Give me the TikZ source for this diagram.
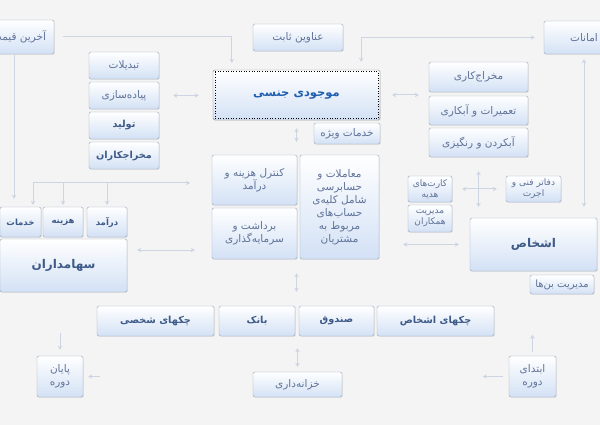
\documentclass[tikz,border=0pt]{standalone}
\usepackage{fontspec}
\usetikzlibrary{arrows.meta,shadows,calc}
\newfontfamily\fa[Script=Arabic]{DejaVu Sans}
\TeXXeTstate=1
\newcommand\rl[1]{\beginR#1\endR}
\definecolor{bg}{HTML}{F4F4F4}
\definecolor{bord}{HTML}{9AA7BA}
\definecolor{bot}{HTML}{D3E1F5}
\definecolor{txt}{HTML}{5F7398}
\definecolor{txtb}{HTML}{3D5A88}
\definecolor{mainb}{HTML}{1F5FAF}
\definecolor{ln}{HTML}{CDD4E2}
\tikzset{
 sz/.style 2 args={minimum width=#1pt, minimum height=#2pt},
 box/.style={draw=bord, rounded corners=1.5pt, top color=white, bottom color=bot, text=txt, inner sep=1pt, align=center,
   font=\fa\fontsize{10.5}{13}\selectfont, drop shadow={opacity=0.15, shadow xshift=0.8pt, shadow yshift=-0.8pt}},
 sbox/.style={box, font=\fa\fontsize{9}{11}\selectfont},
 bbox/.style={box, text=txtb, font=\fa\bfseries\fontsize{9.7}{12}\selectfont},
 tbox/.style={box, text=txtb, font=\fa\bfseries\fontsize{8.5}{12}\selectfont},
 big/.style={box, text=txtb, font=\fa\bfseries\fontsize{12}{14}\selectfont},
 conn/.style={draw=ln, line width=1pt, -{Stealth[length=4pt,width=4.5pt]}},
 dconn/.style={conn, {Stealth[length=4pt,width=4.5pt]}-{Stealth[length=4pt,width=4.5pt]}},
}
\begin{document}
\begin{tikzpicture}[x=1pt,y=-1pt]
\clip (0,0) rectangle (600,425);
\fill[bg] (0,0) rectangle (600,425);

\node[box, sz={70}{34}] (last) at (19,37) {\rl{آخرین قیمت}};
\node[box, sz={90}{27}] (onvan) at (298,37.5) {\rl{عناوین ثابت}};
\node[box, sz={80}{33}] (amanat) at (584,37.5) {\rl{امانات}};
\node[box, sz={70}{27}] (tabdil) at (124,65.5) {\rl{تبدیلات}};
\node[box, sz={70}{27}] (piade) at (124,95.5) {\rl{پیاده‌سازی}};
\node[bbox, sz={70}{27}] (tolid) at (124,125.5) {\rl{تولید}};
\node[bbox, sz={70}{27}] (mokhraj) at (124,155.5) {\rl{مخراجکاران}};
\node[box, sz={167}{50}, draw=gray, text=mainb, font=\fa\bfseries\fontsize{11.5}{14}\selectfont] (main) at (296.5,95) {\rl{موجودی جنسی}};
\draw[dotted, black, line width=0.6pt] ([xshift=2pt,yshift=-2pt]main.north west) rectangle ([xshift=-2pt,yshift=2pt]main.south east);
\node[box, sz={66}{21}] (vizhe) at (347,133.5) {\rl{خدمات ویژه}};
\node[box, sz={99}{30}] (kari) at (478.5,77) {\rl{مخراج‌کاری}};
\node[box, sz={99}{29}] (tamir) at (478.5,110.5) {\rl{تعمیرات و آبکاری}};
\node[box, sz={99}{29}] (abkard) at (478.5,142.5) {\rl{آبکردن و رنگیزی}};
\node[box, sz={85}{50}] (control) at (254.5,180) {\rl{کنترل هزینه و}\\\rl{درآمد}};
\node[box, sz={85}{51}] (bardasht) at (254.5,233.5) {\rl{برداشت و}\\\rl{سرمایه‌گذاری}};
\node[box, sz={79}{104}] (moamelat) at (339.5,207) {\rl{معاملات و}\\\rl{حسابرسی}\\\rl{شامل کلیه‌ی}\\\rl{حساب‌های}\\\rl{مربوط به}\\\rl{مشتریان}};
\node[tbox, sz={41}{30}] (khadamat) at (20.5,222) {\rl{خدمات}};
\node[tbox, sz={40}{30}] (hazine) at (63,222) {\rl{هزینه}};
\node[tbox, sz={40}{30}] (daramad) at (107,222) {\rl{درآمد}};
\node[big, sz={127}{53}] (saham) at (63.5,265.5) {\rl{سهامداران}};
\node[sbox, sz={44}{26}] (kart) at (430,189) {\rl{کارت‌های}\\\rl{هدیه}};
\node[sbox, sz={44}{27}] (hamkar) at (430,218.5) {\rl{مدیریت}\\\rl{همکاران}};
\node[sbox, sz={55}{26}] (dafater) at (533.5,189) {\rl{دفاتر فنی و}\\\rl{اجرت}};
\node[big, sz={127}{53}] (ashkhas) at (533.5,244.5) {\rl{اشخاص}};
\node[box, sz={64}{19}, font=\fa\fontsize{10}{12}\selectfont] (bonha) at (562,284.5) {\rl{مدیریت بن‌ها}};
\node[bbox, sz={117}{30}] (cheksh) at (155.5,321) {\rl{چکهای شخصی}};
\node[bbox, sz={76}{30}] (bank) at (257,321) {\rl{بانک}};
\node[bbox, sz={75}{30}] (sandogh) at (336.5,321) {\rl{صندوق}};
\node[bbox, sz={117}{30}] (chekash) at (435.5,321) {\rl{چکهای اشخاص}};
\node[box, sz={46}{41}] (payan) at (60,376.5) {\rl{پایان}\\\rl{دوره}};
\node[box, sz={89}{25}] (khazane) at (297.5,384.5) {\rl{خزانه‌داری}};
\node[box, sz={47}{41}] (ebteda) at (532.5,376.5) {\rl{ابتدای}\\\rl{دوره}};

\coordinate (xl) at (14,0);
\coordinate (busL) at (33,183);
\coordinate (busR) at (190,183);

\draw[conn, shorten <=9pt, shorten >=7pt] (last.east) -| ([xshift=19pt]main.north west);
\draw[dconn, shorten <=9pt, shorten >=8pt] (amanat.west) -| ([xshift=-19pt]main.north east);
\draw[conn, shorten >=8pt] (last.south -| xl) -- (khadamat.north -| xl);
\draw[conn] (busL) -- (busR);
\draw[conn, shorten >=2pt] (busL) -- (busL |- khadamat.north);
\draw[conn, shorten >=2pt] (hazine.north |- busL) -- (hazine.north);
\draw[conn, shorten >=2pt] (daramad.north |- busL) -- (daramad.north);
\draw[dconn, shorten <=10pt, shorten >=17pt] ([yshift=15.5pt]saham.east) -- ([yshift=-16.5pt]bardasht.west);
\draw[dconn, shorten <=14pt, shorten >=14pt] (piade.east) -- (main.west |- piade.east);
\draw[dconn, shorten <=12pt, shorten >=10pt] (main.east) -- (main.east -| kari.west);
\draw[dconn, shorten <=8pt, shorten >=13pt] (main.south) -- (main.south |- moamelat.north);
\draw[dconn, shorten <=14pt, shorten >=14pt] (main.south |- moamelat.south) -- (main.south |- bank.north);
\draw[dconn, shorten <=12pt, shorten >=5pt] (khazane.north |- bank.south) -- (khazane.north);
\draw[dconn, shorten <=14pt, shorten >=11pt] (abkard.south) -- (abkard.south |- ashkhas.north);
\draw[dconn, shorten <=10pt, shorten >=9pt] (kart.east) -- (dafater.west);
\draw[dconn, shorten <=24pt, shorten >=11pt] (ashkhas.west -| moamelat.east) -- (ashkhas.west);
\draw[dconn, shorten <=5pt, shorten >=11pt] (amanat.south) -- (amanat.south |- ashkhas.north);
\draw[conn, shorten >=6pt] ([yshift=23pt]payan.north) -- (payan.north);
\draw[conn, shorten >=5pt] ([xshift=17pt]payan.east) -- (payan.east);
\draw[conn, shorten <=4pt] (ebteda.north) -- ([yshift=21pt]ebteda.north);
\draw[conn, shorten <=6pt] (ebteda.west) -- ([xshift=-26pt]ebteda.west);
\end{tikzpicture}
\end{document}
